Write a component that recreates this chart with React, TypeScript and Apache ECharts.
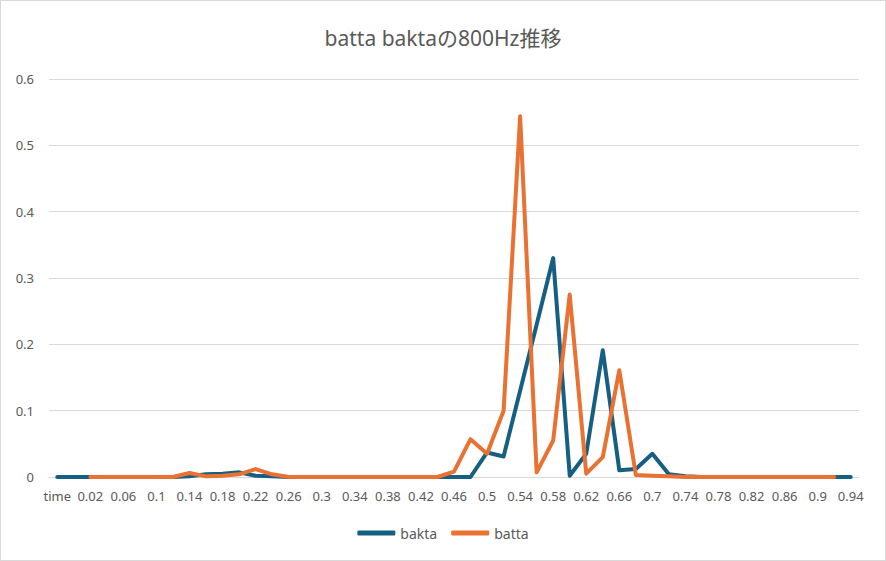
import React, { useEffect, useRef } from 'react';
import * as echarts from 'echarts';

const categories = [
  'time', '0', '0.02', '0.04', '0.06', '0.08', '0.1', '0.12', '0.14', '0.16',
  '0.18', '0.2', '0.22', '0.24', '0.26', '0.28', '0.3', '0.32', '0.34', '0.36',
  '0.38', '0.4', '0.42', '0.44', '0.46', '0.48', '0.5', '0.52', '0.54', '0.56',
  '0.58', '0.6', '0.62', '0.64', '0.66', '0.68', '0.7', '0.72', '0.74', '0.76',
  '0.78', '0.8', '0.82', '0.84', '0.86', '0.88', '0.9', '0.92', '0.94',
];

const bakta = [
  0, 0, 0, 0, 0, 0, 0, 0, 0.001, 0.004,
  0.005, 0.007, 0.002, 0.001, 0, 0, 0, 0, 0, 0,
  0, 0, 0, 0, 0, 0, 0.037, 0.031, 0.13, 0.23,
  0.33, 0.002, 0.035, 0.191, 0.01, 0.012, 0.035, 0.004, 0.001, 0,
  0, 0, 0, 0, 0, 0, 0, 0, 0,
];

const batta = [
  null, null, 0, 0, 0, 0, 0, 0, 0.006, 0.001,
  0.002, 0.004, 0.012, 0.004, 0, 0, 0, 0, 0, 0,
  0, 0, 0, 0, 0.008, 0.057, 0.035, 0.1, 0.544, 0.007,
  0.055, 0.275, 0.005, 0.03, 0.161, 0.003, 0.002, 0.001, 0, 0,
  0, 0, 0, 0, 0, 0, 0, 0, null,
];

const FONT = '"Noto Sans", "Noto Sans CJK JP", sans-serif';
const TEXT = '#595959';
const GRID = '#d9d9d9';

export default function App() {
  const ref = useRef<HTMLDivElement | null>(null);

  useEffect(() => {
    if (!ref.current) return;
    const chart = echarts.init(ref.current, undefined, { renderer: 'svg' });
    chart.setOption({
      animation: false,
      backgroundColor: '#ffffff',
      title: {
        text: 'batta baktaの800Hz推移',
        left: 'center', top: 21,
        textStyle: { color: TEXT, fontSize: 21, fontWeight: 'normal', fontFamily: FONT },
      },
      legend: {
        bottom: 15, left: 'center',
        icon: 'roundRect',
        itemWidth: 38, itemHeight: 5, itemGap: 14,
        textStyle: { color: TEXT, fontSize: 14, fontFamily: FONT },
        data: ['bakta', 'batta'],
      },
      grid: { left: 48, right: 26, top: 78, bottom: 83, containLabel: false },
      xAxis: {
        type: 'category',
        data: categories,
        boundaryGap: true,
        axisLine: { show: true, lineStyle: { color: GRID, width: 1 } },
        axisTick: { show: false },
        axisLabel: { interval: 1, color: TEXT, fontSize: 13, fontFamily: FONT, margin: 12 },
      },
      yAxis: {
        type: 'value',
        min: 0, max: 0.6, interval: 0.1,
        axisLine: { show: false },
        axisTick: { show: false },
        splitLine: { lineStyle: { color: GRID, width: 1 } },
        axisLabel: { color: TEXT, fontSize: 13, fontFamily: FONT, margin: 15 },
      },
      series: [
        {
          name: 'bakta', type: 'line', data: bakta, symbol: 'none',
          color: '#156082',
          lineStyle: { width: 4, color: '#156082', cap: 'round', join: 'round' },
        },
        {
          name: 'batta', type: 'line', data: batta, symbol: 'none',
          color: '#e97132',
          lineStyle: { width: 4, color: '#e97132', cap: 'round', join: 'round' },
        },
      ],
    });
    return () => { chart.dispose(); };
  }, []);

  return (
    <div
      style={{
        position: 'fixed', left: 0, top: 0, width: 886, height: 561,
        boxSizing: 'border-box', border: '1px solid #d9d9d9', background: '#fff',
      }}
    >
      <div ref={ref} style={{ width: 884, height: 559 }} />
    </div>
  );
}
